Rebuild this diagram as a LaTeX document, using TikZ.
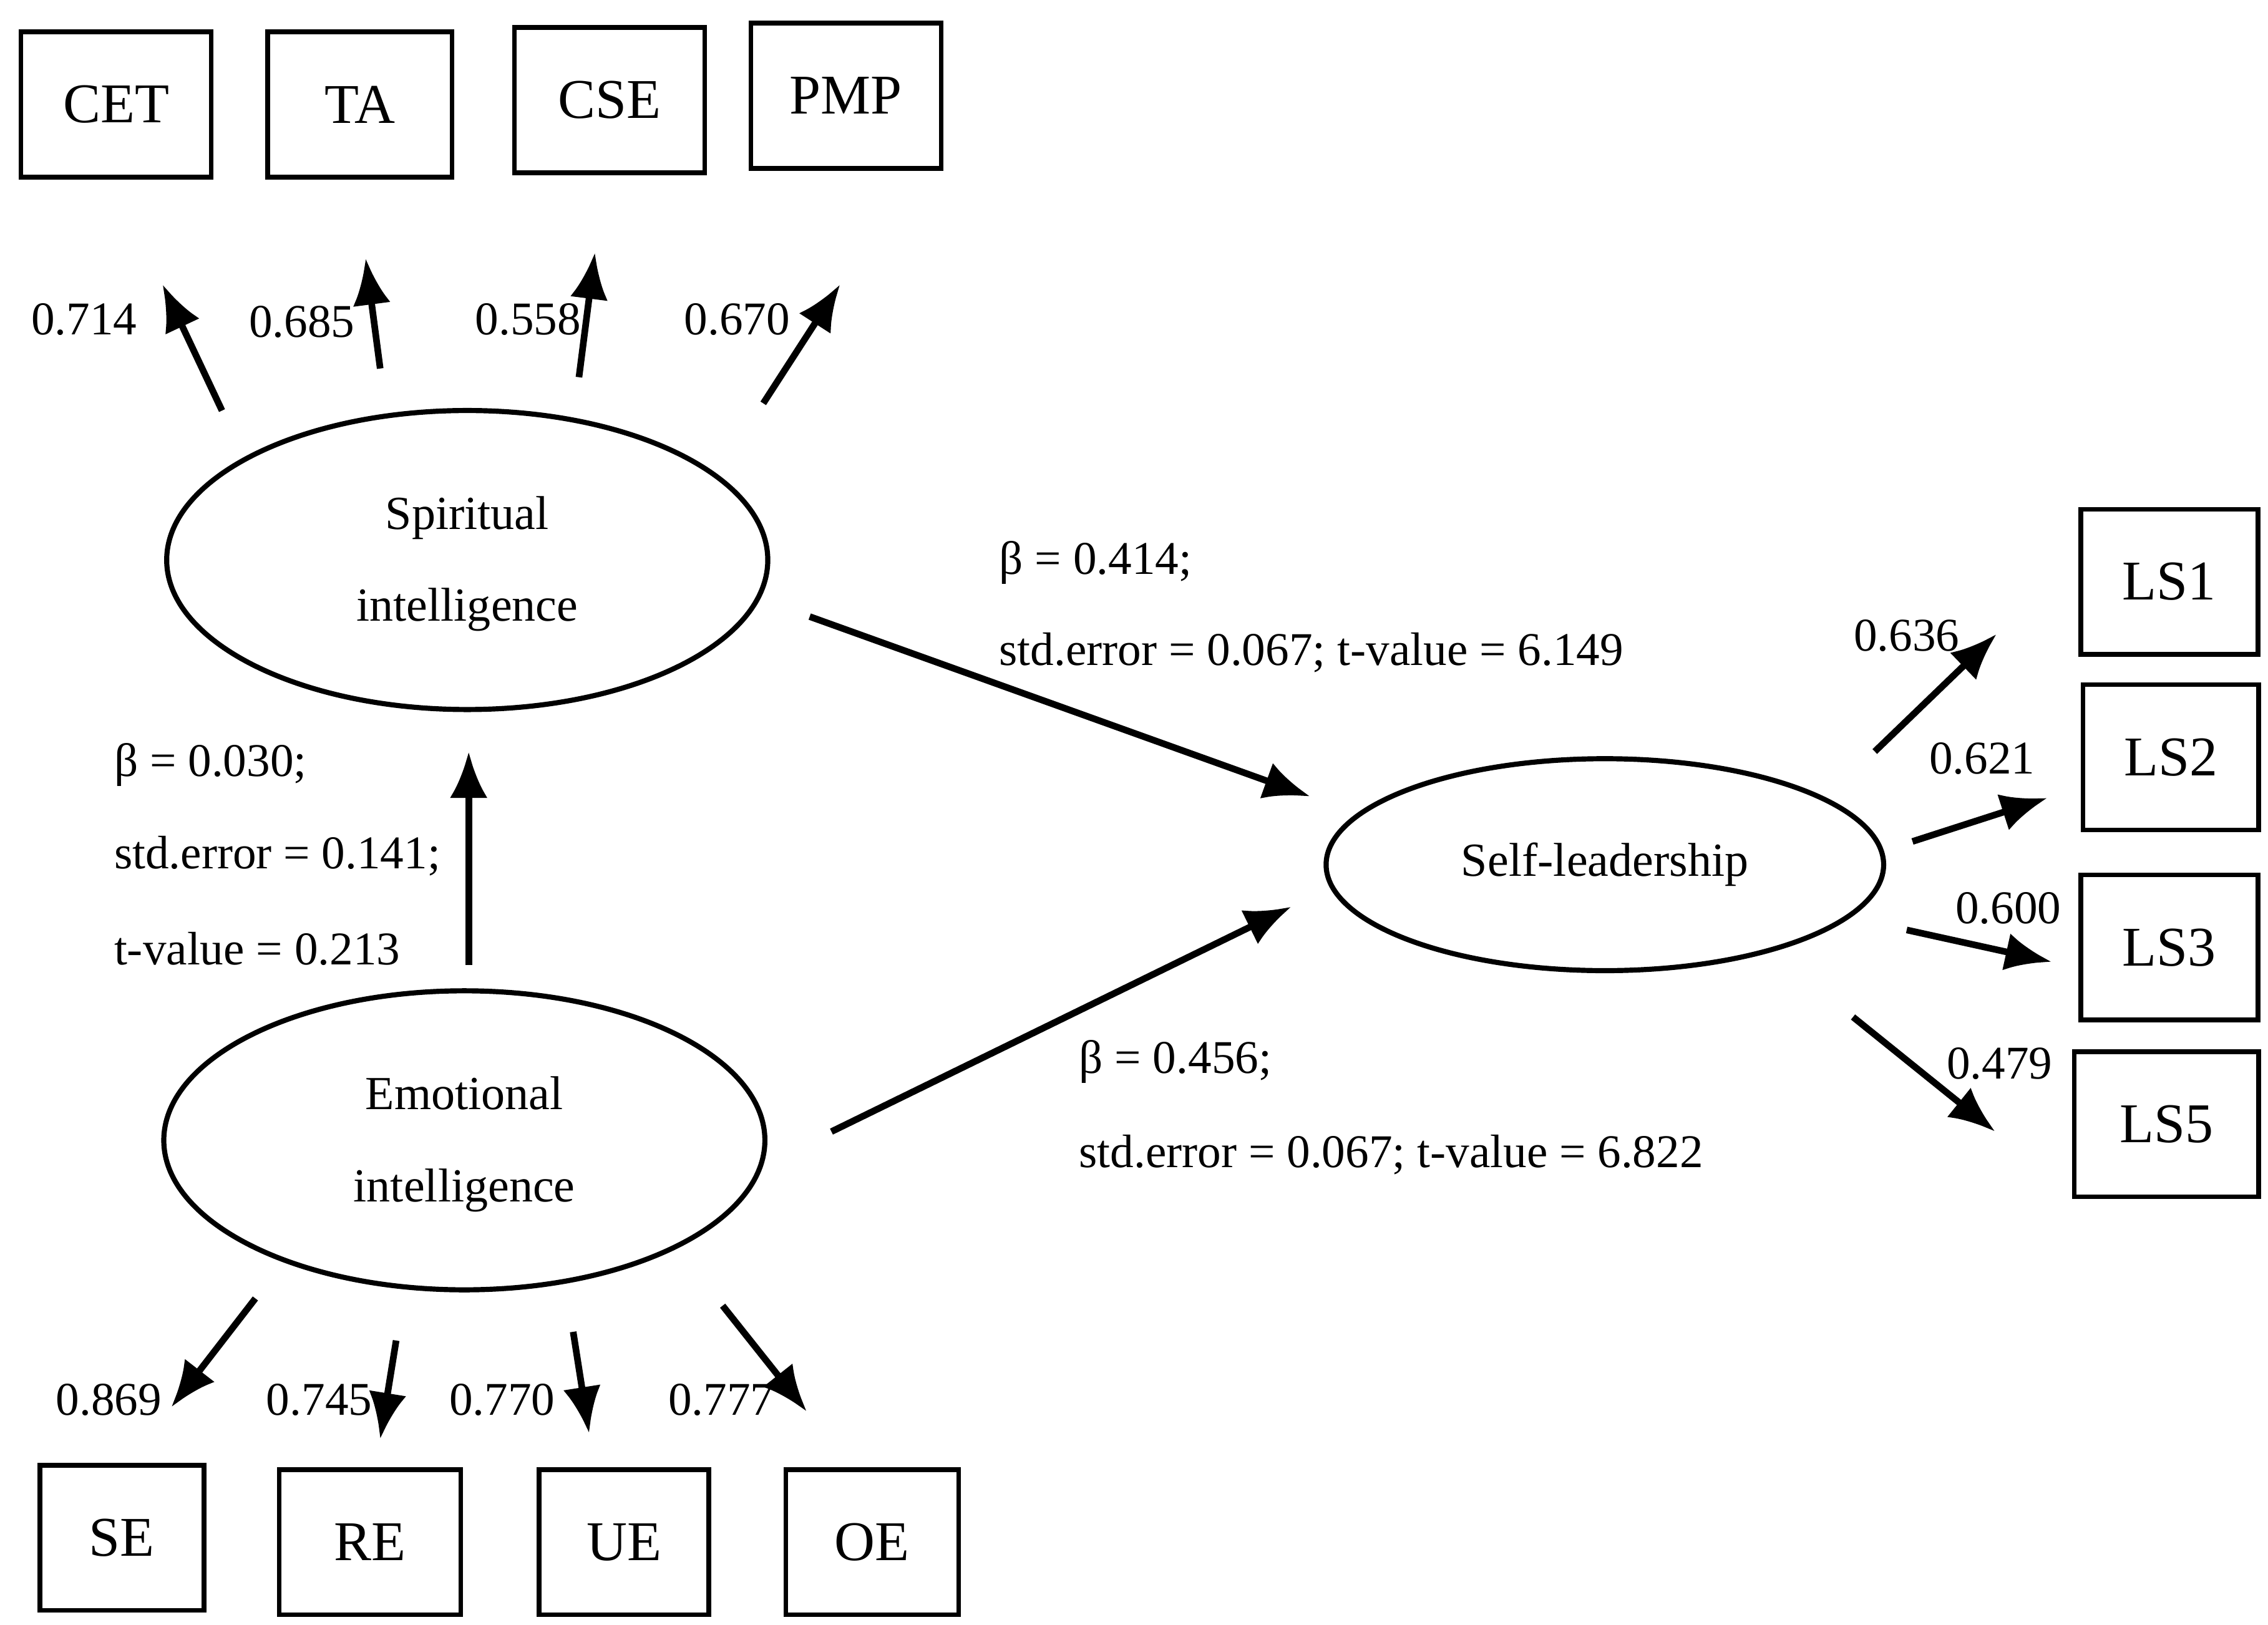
\documentclass[tikz,border=0pt]{standalone}
\usepackage{fontspec}
\setmainfont{Liberation Serif}
\usetikzlibrary{arrows.meta,shapes.geometric}
\tikzset{
  ind/.style={draw, line width=0.9pt, minimum width=1.25cm, minimum height=1cm, font=\fontsize{11}{13}\selectfont},
  lat/.style={draw, ellipse, line width=1pt, align=center, font=\fontsize{9.3}{18}\selectfont},
  arr/.style={line width=1.3pt, -{Latex[length=3.2mm, width=2.6mm]}},
  lbl/.style={font=\fontsize{9.2}{11}\selectfont, inner sep=0pt}
}
\begin{document}
\begin{tikzpicture}[x=0.01cm, y=-0.01cm]
    \useasboundingbox (0,0) rectangle (1563,1120);
    % latent variables
    \node[lat, minimum width=4.14cm, minimum height=2.06cm] (si) at (322,386) {\\[-10pt]Spiritual\\intelligence};
    \node[lat, minimum width=4.14cm, minimum height=2.06cm] (ei) at (320,786) {\\[-10pt]Emotional\\intelligence};
    \node[lat, minimum width=3.84cm, minimum height=1.46cm] (sl) at (1106,596) {Self-leadership};
    % indicators (top)
    \node[ind, minimum width=1.31cm] (cet) at (80,72) {CET};
    \node[ind, minimum width=1.27cm] (ta) at (248,72) {TA};
    \node[ind, minimum width=1.31cm] (cse) at (420,69) {CSE};
    \node[ind, minimum width=1.31cm] (pmp) at (583,66) {PMP};
    % indicators (right)
    \node[ind, minimum width=1.22cm] (ls1) at (1495,401) {LS1};
    \node[ind, minimum width=1.21cm] (ls2) at (1496,522) {LS2};
    \node[ind, minimum width=1.22cm] (ls3) at (1495,653) {LS3};
    \node[ind, minimum width=1.27cm] (ls5) at (1493,775) {LS5};
    % indicators (bottom)
    \node[ind, minimum width=1.13cm] (se) at (84,1060) {SE};
    \node[ind, minimum width=1.25cm] (re) at (255,1063) {RE};
    \node[ind, minimum width=1.17cm] (ue) at (430,1063) {UE};
    \node[ind, minimum width=1.19cm] (oe) at (601,1063) {OE};
    % arrow ends
    \coordinate (si1) at (153,283);  \coordinate (si1e) at (112,196);
    \coordinate (si2) at (262,254);  \coordinate (si2e) at (252,178);
    \coordinate (si3) at (399,260);  \coordinate (si3e) at (410,174);
    \coordinate (si4) at (526,278);  \coordinate (si4e) at (579,196);
    \coordinate (ei0) at (323,665);  \coordinate (ei0e) at (323,518);
    \coordinate (sia) at (558,425);  \coordinate (siae) at (903,549);
    \coordinate (eia) at (573,780);  \coordinate (eiae) at (890,625);
    \coordinate (sl1) at (1292,518); \coordinate (sl1e) at (1376,437);
    \coordinate (sl2) at (1318,580); \coordinate (sl2e) at (1411,550);
    \coordinate (sl3) at (1314,641); \coordinate (sl3e) at (1414,663);
    \coordinate (sl4) at (1277,701); \coordinate (sl4e) at (1375,780);
    \coordinate (ei1) at (176,895);  \coordinate (ei1e) at (118,970);
    \coordinate (ei2) at (273,924);  \coordinate (ei2e) at (262,992);
    \coordinate (ei3) at (395,918);  \coordinate (ei3e) at (406,988);
    \coordinate (ei4) at (498,900);  \coordinate (ei4e) at (556,973);
    % arrows
    \foreach \a in {si1,si2,si3,si4,ei0,sia,eia,sl1,sl2,sl3,sl4,ei1,ei2,ei3,ei4}
        \draw[arr] (\a) -- (\a e);
    % loadings
    \node[lbl] at (58,220) {0.714};
    \node[lbl] at (208,222) {0.685};
    \node[lbl] at (364,220) {0.558};
    \node[lbl] at (508,220) {0.670};
    \node[lbl] at (1314,438) {0.636};
    \node[lbl] at (1366,523) {0.621};
    \node[lbl] at (1384,626) {0.600};
    \node[lbl] at (1378,733) {0.479};
    \node[lbl] at (75,965) {0.869};
    \node[lbl] at (220,965) {0.745};
    \node[lbl] at (346,965) {0.770};
    \node[lbl] at (497,965) {0.777};
    % path coefficients
    \node[lbl, anchor=west] at (78,527) {β = 0.030;};
    \node[lbl, anchor=west] at (78,590) {std.error = 0.141;};
    \node[lbl, anchor=west] at (78,654) {t-value = 0.213};
    \node[lbl, anchor=west] at (688,388) {β = 0.414;};
    \node[lbl, anchor=west] at (688,450) {std.error = 0.067; t-value = 6.149};
    \node[lbl, anchor=west] at (743,732) {β = 0.456;};
    \node[lbl, anchor=west] at (743,796) {std.error = 0.067; t-value = 6.822};
\end{tikzpicture}
\end{document}
